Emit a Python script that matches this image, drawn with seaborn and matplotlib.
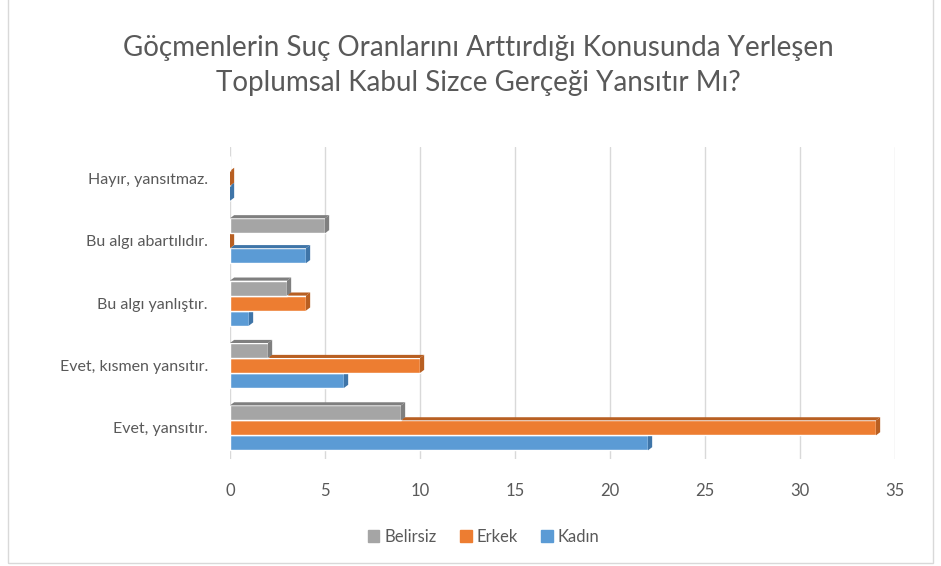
import pandas as pd
import matplotlib.pyplot as plt
import seaborn as sns
from matplotlib.patches import Polygon, Rectangle

# answers (top to bottom as shown in the chart)
answers = ['Hayır, yansıtmaz.', 'Bu algı abartılıdır.', 'Bu algı yanlıştır.',
           'Evet, kısmen yansıtır.', 'Evet, yansıtır.']
belirsiz = [0, 5, 3, 2, 9]
erkek = [0, 0, 4, 10, 34]
kadin = [0, 4, 1, 6, 22]
groups = ['Belirsiz', 'Erkek', 'Kadın']
colors = ['#A5A5A5', '#ED7D31', '#5B9BD5']
dark = ['#7F7F7F', '#B85F22', '#3F75A8']

df = pd.DataFrame({'cevap': answers * 3,
                   'grup': [g for g in groups for _ in answers],
                   'sayi': belirsiz + erkek + kadin})

sns.set_style('white')
plt.rcParams['font.family'] = ['Lato', 'DejaVu Sans']
txt = '#595959'

fig = plt.figure(figsize=(9.41, 5.66), dpi=100)
ax = fig.add_axes([0.2444, 0.189, 0.7067, 0.551])

sns.barplot(data=df, y='cevap', x='sayi', hue='grup', order=answers,
            hue_order=groups, palette=colors, orient='h', width=0.72,
            saturation=1, legend=False, ax=ax)

# fake 3D depth: darker top and right faces, upper bars drawn over lower ones
dx, dy = 0.22, 0.05
for i, cont in enumerate(ax.containers):
    z = 5 - i
    for p in cont.patches:
        p.set_zorder(z)
        x0, y0 = p.get_x(), p.get_y()
        x1, y1 = x0 + p.get_width(), y0 + p.get_height()
        if i == 0 and p.get_width() == 0:
            continue
        top = Polygon([(x0, y0), (x0 + dx, y0 - dy), (x1 + dx, y0 - dy), (x1, y0)],
                      closed=True, color=dark[i], lw=0, zorder=z)
        side = Polygon([(x1, y0), (x1 + dx, y0 - dy), (x1 + dx, y1 - dy), (x1, y1)],
                       closed=True, color=dark[i], lw=0, zorder=z)
        ax.add_patch(top)
        ax.add_patch(side)

ax.set_xlim(0, 35)
ax.set_xticks(range(0, 36, 5))
ax.set_ylim(4.5, -0.5)
ax.grid(axis='x', color='#D9D9D9', lw=1)
ax.set_axisbelow(True)
for s in ax.spines.values():
    s.set_visible(False)
ax.set_xlabel('')
ax.set_ylabel('')
ax.tick_params(axis='y', length=0, pad=16, labelsize=11.5, labelcolor=txt)
ax.tick_params(axis='x', length=0, pad=17, labelsize=12, labelcolor=txt)

fig.text(0.508, 0.884, 'Göçmenlerin Suç Oranlarını Arttırdığı Konusunda Yerleşen\n'
         'Toplumsal Kabul Sizce Gerçeği Yansıtır Mı?',
         ha='center', va='center', fontsize=20, color=txt, linespacing=1.4)

handles = [Rectangle((0, 0), 1, 1, color=c) for c in colors]
fig.legend(handles, groups, loc='center', bbox_to_anchor=(0.514, 0.051), ncol=3,
           frameon=False, fontsize=12, labelcolor=txt, handlelength=0.7,
           handleheight=0.7, handletextpad=0.3, columnspacing=1.4)

fig.patches.append(Rectangle((0.009, 0.005), 0.982, 1.2, transform=fig.transFigure,
                             fill=False, edgecolor='#D9D9D9', lw=1))

fig.savefig('out.png', dpi=100)
